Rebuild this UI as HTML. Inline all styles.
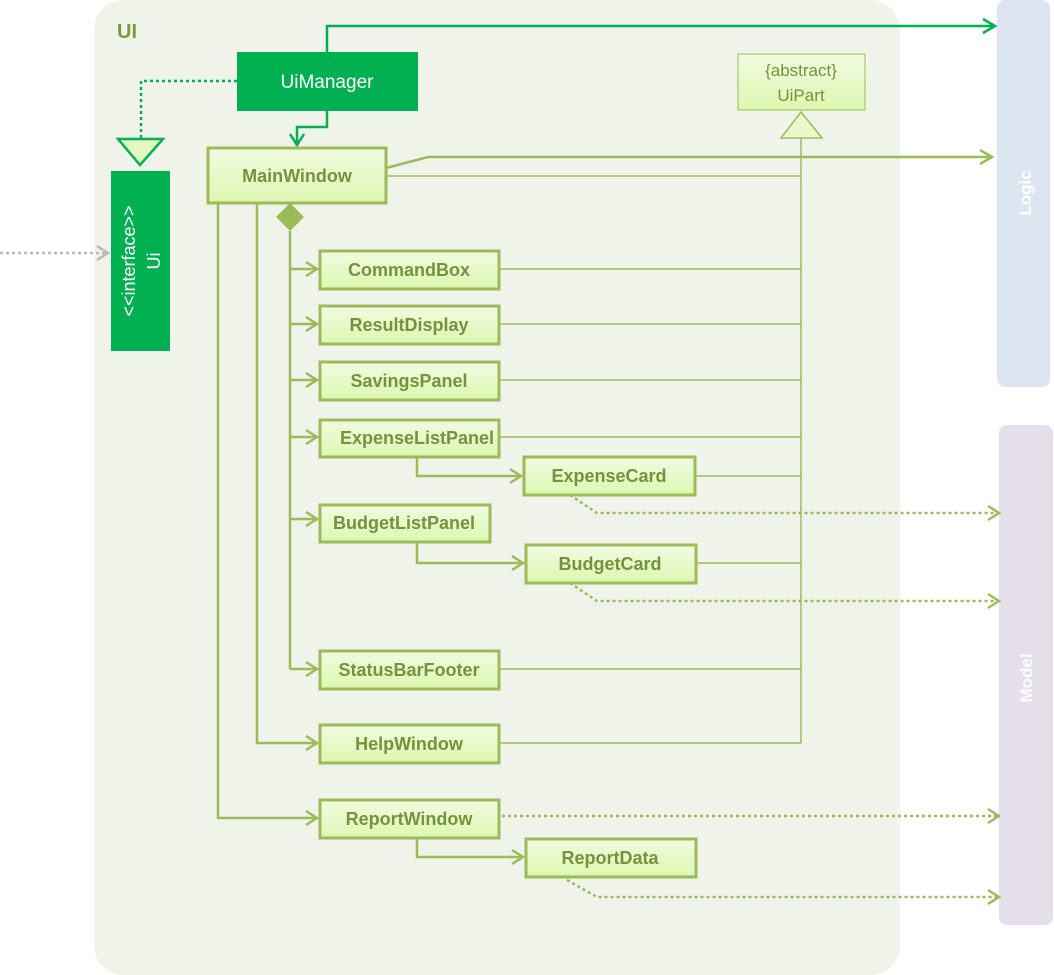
<!DOCTYPE html>
<html><head><style>body{margin:0;background:#fff}svg{display:block}text{font-family:"Liberation Sans",sans-serif}</style></head><body>
<svg width="1054" height="975" viewBox="0 0 1054 975" xmlns="http://www.w3.org/2000/svg">
<defs>
<linearGradient id="g" x1="0" y1="0" x2="0" y2="1"><stop offset="0" stop-color="#f2fbe2"/><stop offset="1" stop-color="#dcf7b0"/></linearGradient>
</defs>
<rect x="94" y="0" width="806" height="975" rx="30" fill="#f0f3e9"/>
<rect x="997" y="0" width="53" height="387" rx="8" fill="#dde6f0"/>
<rect x="999" y="425" width="54" height="500" rx="8" fill="#e5dfec"/>
<text transform="translate(1031,193) rotate(-90)" text-anchor="middle" fill="#fff" font-size="17" font-weight="bold">Logic</text>
<text transform="translate(1032,678) rotate(-90)" text-anchor="middle" fill="#fff" font-size="17" font-weight="bold">Model</text>
<text x="117" y="38" font-size="20" font-weight="bold" fill="#7a9a3a">UI</text>

<g stroke="#9bbb59" fill="none" stroke-width="1.5">
<path d="M801 138V743"/>
<path d="M386 176H801M499 269H801M499 324H801M499 380H801M499 437H801M695 476H801M696 563H801M499 669H801M499 743H801"/>
</g>
<g stroke="#9bbb59" fill="none" stroke-width="2.5">
<path d="M386 168L428 157H990"/><path d="M980 150L992 157L980 164"/>
<path d="M290 231V669"/>
<path d="M290 269H317M290 324H317M290 380H317M290 437H317M290 519H317M290 669H317"/>
<path d="M257 203V743H317M218 203V818H317"/>
<path d="M417 457V476H521M417 542V563H523M417 838V857H523"/>
</g>
<g stroke="#9bbb59" fill="none" stroke-width="2.5">
<path d="M306 262L317 269L306 276M306 317L317 324L306 331M306 373L317 380L306 387M306 430L317 437L306 444M306 512L317 519L306 526M306 662L317 669L306 676M306 736L317 743L306 750M306 811L317 818L306 825M510 469L521 476L510 483M512 556L523 563L512 570M512 850L523 857L512 864"/>
<path d="M988 506L999 513L988 520M988 594L999 601L988 608M988 809L999 816L988 823M988 890L999 897L988 904"/>
</g>
<g stroke="#9bbb59" fill="none" stroke-width="2.5" stroke-dasharray="3,3">
<path d="M570 495L597 513H997M570 583L597 601H997M502 816H997M567 880L597 897H997"/>
</g>
<path d="M276 217L290 203L304 217L290 231Z" fill="#9bbb59"/>
<path d="M781 138L801 112L822 138Z" fill="#eaf8cc" stroke="#9bbb59" stroke-width="1.5"/>

<g stroke="#00b050" fill="none" stroke-width="2.5">
<path d="M327 52V26H993"/><path d="M983 19L995 26L983 33"/>
<path d="M327 111V127H297V143"/><path d="M290 134L297 145L304 134"/>
<path d="M237 81H141V138" stroke-dasharray="3,3"/>
</g>
<path d="M118 139H163L140 165Z" fill="#e3f8c0" stroke="#00b050" stroke-width="2.5"/>
<g stroke="#bbb" fill="none" stroke-width="2.5"><path d="M0 253H106" stroke-dasharray="3,3"/><path d="M97 246L108 253L97 260"/></g>

<rect x="237" y="52" width="181" height="59" fill="#00b050"/>
<text x="327" y="88" text-anchor="middle" fill="#fff" font-size="19">UiManager</text>
<rect x="111" y="171" width="59" height="180" fill="#00b050"/>
<text transform="translate(135,261) rotate(-90)" text-anchor="middle" fill="#fff" font-size="18">&lt;&lt;interface&gt;&gt;</text>
<text transform="translate(160,261) rotate(-90)" text-anchor="middle" fill="#fff" font-size="18">Ui</text>

<g stroke="#9bbb59" stroke-width="3" fill="url(#g)">
<rect x="208" y="148" width="178" height="55"/>
<rect x="320" y="251" width="179" height="38"/>
<rect x="320" y="306" width="179" height="38"/>
<rect x="320" y="362" width="179" height="38"/>
<rect x="320" y="420" width="179" height="37"/>
<rect x="524" y="457" width="171" height="38"/>
<rect x="320" y="505" width="170" height="37"/>
<rect x="526" y="545" width="170" height="38"/>
<rect x="320" y="651" width="179" height="38"/>
<rect x="320" y="725" width="179" height="38"/>
<rect x="320" y="800" width="179" height="38"/>
<rect x="526" y="839" width="170" height="38"/>
</g>
<rect x="738" y="54" width="127" height="56" fill="url(#g)" stroke="#9bbb59" stroke-width="1"/>
<g fill="#76923c" font-size="18" font-weight="bold" text-anchor="middle">
<text x="297" y="182">MainWindow</text>
<text x="409" y="276">CommandBox</text>
<text x="409" y="331">ResultDisplay</text>
<text x="409" y="387">SavingsPanel</text>
<text x="417" y="444">ExpenseListPanel</text>
<text x="609" y="482">ExpenseCard</text>
<text x="404" y="529">BudgetListPanel</text>
<text x="610" y="570">BudgetCard</text>
<text x="409" y="676">StatusBarFooter</text>
<text x="409" y="750">HelpWindow</text>
<text x="409" y="825">ReportWindow</text>
<text x="610" y="864">ReportData</text>
</g>
<g fill="#76923c" font-size="17" text-anchor="middle">
<text x="801" y="76">{abstract}</text>
<text x="801" y="101">UiPart</text>
</g>
</svg>
</body></html>
